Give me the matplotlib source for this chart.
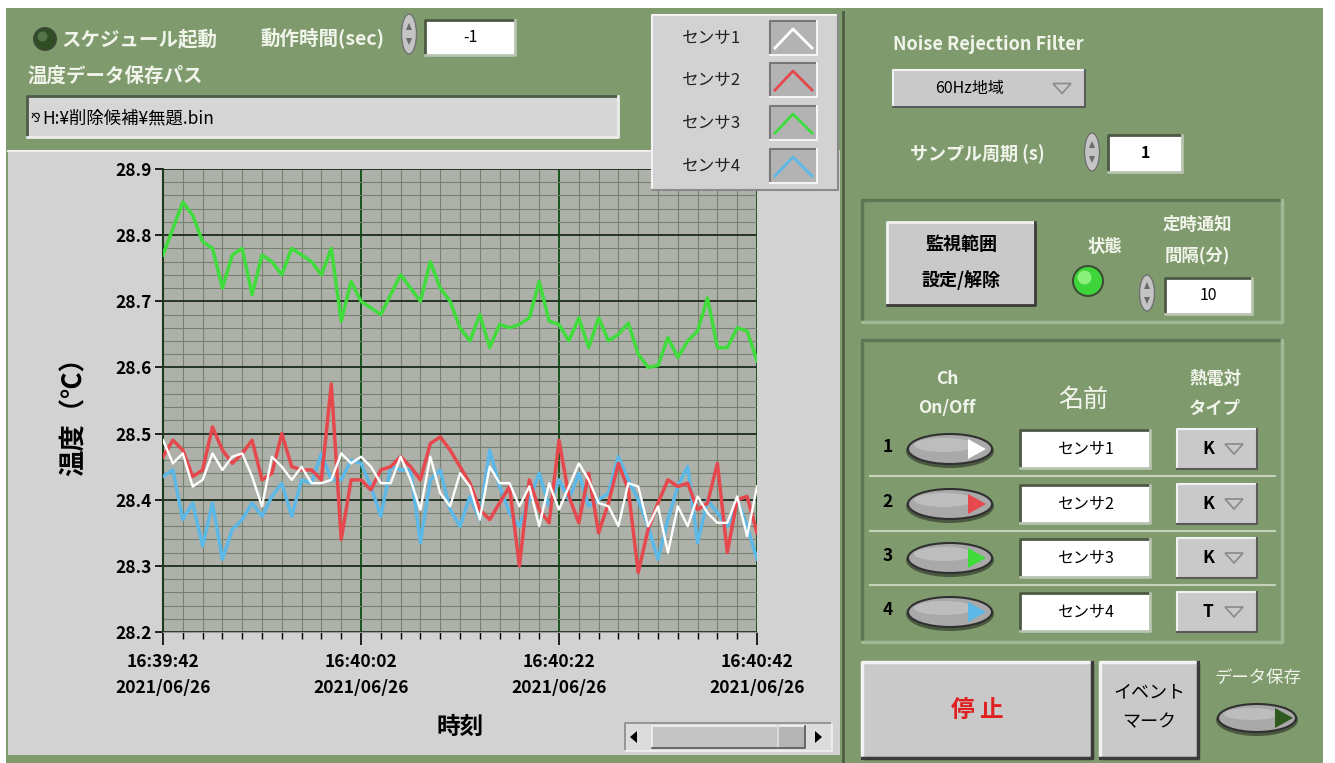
import matplotlib.pyplot as plt
import numpy as np
from matplotlib.patches import Rectangle, Ellipse, Circle, Polygon

plt.rcParams['font.family'] = ['Noto Sans CJK JP', 'DejaVu Sans']

W, H = 1335, 763

# ---- data (1 sample per second) ----
seconds = list(range(61))
x_ticks = [0, 20, 40, 60]
x_tick_labels = ['16:39:42\n2021/06/26', '16:40:02\n2021/06/26',
                 '16:40:22\n2021/06/26', '16:40:42\n2021/06/26']
y_ticks = [28.2, 28.3, 28.4, 28.5, 28.6, 28.7, 28.8, 28.9]
sensor_names = ['センサ1', 'センサ2', 'センサ3', 'センサ4']
sensor_colors = ['#ffffff', '#e5484d', '#3fdc3c', '#5cb8e6']
tc_types = ['K', 'K', 'K', 'T']

sensor1 = [28.49, 28.455, 28.47, 28.42, 28.43, 28.47, 28.445, 28.465, 28.47, 28.435,
           28.39, 28.465, 28.45, 28.43, 28.45, 28.425, 28.425, 28.43, 28.47, 28.455,
           28.465, 28.45, 28.425, 28.425, 28.465, 28.43, 28.385, 28.465, 28.41, 28.39,
           28.44, 28.42, 28.37, 28.45, 28.425, 28.425, 28.39, 28.42, 28.36, 28.425,
           28.385, 28.42, 28.455, 28.43, 28.395, 28.39, 28.36, 28.425, 28.42, 28.36,
           28.39, 28.32, 28.39, 28.36, 28.405, 28.38, 28.365, 28.365, 28.405, 28.345,
           28.42]
sensor2 = [28.465, 28.49, 28.475, 28.435, 28.445, 28.51, 28.475, 28.455, 28.47, 28.49,
           28.43, 28.44, 28.50, 28.45, 28.445, 28.445, 28.43, 28.575, 28.34, 28.43,
           28.43, 28.415, 28.445, 28.45, 28.465, 28.45, 28.43, 28.485, 28.495, 28.475,
           28.45, 28.425, 28.385, 28.37, 28.395, 28.42, 28.30, 28.43, 28.385, 28.365,
           28.49, 28.405, 28.365, 28.44, 28.35, 28.395, 28.455, 28.415, 28.29, 28.355,
           28.395, 28.43, 28.42, 28.425, 28.385, 28.395, 28.455, 28.32, 28.40, 28.405,
           28.35]
sensor3 = [28.77, 28.81, 28.85, 28.83, 28.79, 28.78, 28.72, 28.77, 28.78, 28.71,
           28.77, 28.76, 28.74, 28.78, 28.77, 28.76, 28.74, 28.78, 28.67, 28.73,
           28.70, 28.69, 28.68, 28.71, 28.74, 28.72, 28.70, 28.76, 28.72, 28.70,
           28.66, 28.64, 28.68, 28.63, 28.665, 28.66, 28.665, 28.675, 28.73, 28.67,
           28.665, 28.64, 28.675, 28.63, 28.675, 28.64, 28.65, 28.667, 28.62, 28.60,
           28.603, 28.645, 28.615, 28.64, 28.655, 28.705, 28.63, 28.63, 28.66, 28.655,
           28.61]
sensor4 = [28.435, 28.445, 28.37, 28.395, 28.33, 28.395, 28.31, 28.355, 28.37, 28.395,
           28.375, 28.405, 28.425, 28.375, 28.43, 28.425, 28.47, 28.43, 28.43, 28.46,
           28.455, 28.42, 28.375, 28.45, 28.445, 28.445, 28.335, 28.43, 28.445, 28.385,
           28.36, 28.405, 28.37, 28.475, 28.42, 28.38, 28.36, 28.40, 28.44, 28.39,
           28.43, 28.40, 28.44, 28.39, 28.40, 28.41, 28.465, 28.43, 28.40, 28.36,
           28.31, 28.37, 28.42, 28.45, 28.335, 28.40, 28.38, 28.36, 28.40, 28.36,
           28.31]

PANEL = '#7f9b6e'
FRAME = '#d2d2d2'
LIGHT = '#f1f4ea'
CTRL = '#c9c9c9'


def frac(x0, y0, x1, y1):
    return [x0 / W, 1 - y1 / H, (x1 - x0) / W, (y1 - y0) / H]


def box(ax, x0, y0, x1, y1, fc, raised=True, lw=1.5, light='#f2f2f2', dark='#555555', z=2):
    ax.add_patch(Rectangle((x0, y0), x1 - x0, y1 - y0, facecolor=fc, edgecolor='none', zorder=z))
    a, b = (light, dark) if raised else (dark, light)
    ax.plot([x0, x0, x1], [y1, y0, y0], color=a, lw=lw, zorder=z + 0.1)
    ax.plot([x0, x1, x1], [y1, y1, y0], color=b, lw=lw, zorder=z + 0.1)


def label(ax, x, y, s, size=11, color=LIGHT, weight='bold', ha='left', va='center', **kw):
    ax.text(x, y, s, fontsize=size, color=color, fontweight=weight, ha=ha, va=va, zorder=5, **kw)


def spinner(ax, x, y, h=36):
    ax.add_patch(Ellipse((x, y), 15, h, facecolor='#c4c4c4', edgecolor='#707070', lw=1, zorder=3))
    ax.add_patch(Polygon([(x - 3, y - 4), (x, y - 11), (x + 3, y - 4)], facecolor='#6a6a6a', zorder=4))
    ax.add_patch(Polygon([(x - 3, y + 4), (x, y + 11), (x + 3, y + 4)], facecolor='#6a6a6a', zorder=4))


def numbox(ax, x0, y0, x1, y1, s, weight='normal'):
    box(ax, x0, y0, x1, y1, 'white', raised=False, lw=2, dark='#4c5a44', light='#b8c4b0')
    label(ax, (x0 + x1) / 2, (y0 + y1) / 2, s, size=11.5, color='black', weight=weight, ha='center')


def toggle(ax, cx, cy, color, w=84, h=30):
    ax.add_patch(Ellipse((cx, cy + 2), w + 4, h + 4, facecolor='#4a5840', edgecolor='none', zorder=3))
    ax.add_patch(Ellipse((cx, cy), w, h, facecolor='#a9a9a9', edgecolor='#303030', lw=1.5, zorder=3.1))
    ax.add_patch(Ellipse((cx - 6, cy - 4), w - 24, h - 16, facecolor='#bdbdbd', edgecolor='none', zorder=3.2))
    ax.add_patch(Polygon([(cx + 18, cy - 10), (cx + 36, cy), (cx + 18, cy + 10)],
                         facecolor=color, edgecolor='none', zorder=3.3))


def led(ax, cx, cy, r, base, hi):
    ax.add_patch(Circle((cx, cy), r + 2, facecolor='#3c4a34', edgecolor='none', zorder=3))
    ax.add_patch(Circle((cx, cy), r, facecolor=base, edgecolor='none', zorder=3.1))
    ax.add_patch(Circle((cx - r * 0.25, cy - r * 0.25), r * 0.5, facecolor=hi, edgecolor='none', zorder=3.2))


def dropdown(ax, x0, y0, x1, y1, s, tx, size=11.5, weight='normal'):
    box(ax, x0, y0, x1, y1, CTRL, raised=True, lw=1.5, dark='#5a5a5a')
    label(ax, tx, (y0 + y1) / 2, s, size=size, color='black', weight=weight, ha='center')
    ax.add_patch(Polygon([(x1 - 32, (y0 + y1) / 2 - 5), (x1 - 14, (y0 + y1) / 2 - 5),
                          (x1 - 23, (y0 + y1) / 2 + 5)], closed=True, facecolor='none',
                         edgecolor='#8a8a8a', lw=1.2, zorder=4))


fig = plt.figure(figsize=(W / 100, H / 100), dpi=100)
fig.patch.set_facecolor('white')

bg = fig.add_axes([0, 0, 1, 1], zorder=0)
bg.set_xlim(0, W)
bg.set_ylim(H, 0)
bg.axis('off')
bg.add_patch(Rectangle((6, 8), 1317, 755, facecolor=PANEL, edgecolor='none', zorder=0))

# ---- top-left controls ----
led(bg, 45, 39, 10, '#2f4c22', '#55754a')
label(bg, 62, 39, 'スケジュール起動', size=14)
label(bg, 260, 39, '動作時間(sec)', size=14)
spinner(bg, 409, 34, 40)
numbox(bg, 425, 20, 515, 55, '-1')
label(bg, 27, 76, '温度データ保存パス', size=14)
box(bg, 27, 96, 618, 137, '#d6d6d6', raised=False, lw=2, dark='#4f5a48', light='#ececec')
label(bg, 31, 118, '⅋', size=9, color='black', weight='normal')
label(bg, 42, 118, 'H:¥削除候補¥無題.bin', size=12.5, color='black', weight='normal')

# ---- graph frame ----
bg.add_patch(Rectangle((8, 150), 832, 605, facecolor=FRAME, edgecolor='none', zorder=1))
bg.plot([8, 650], [151, 151], color='#eeeeee', lw=1.5, zorder=1.1)
bg.plot([843, 843], [12, 763], color='#4d5d44', lw=2, zorder=1.1)
bg.text(74, 410, '温度（℃）', rotation=90, fontsize=19, fontweight='bold', ha='center', va='center', zorder=5)
bg.text(460, 727, '時刻', fontsize=17, fontweight='bold', ha='center', va='center', zorder=5)

# scrollbar
box(bg, 625, 723, 832, 751, '#dcdcdc', raised=False, lw=1.2, dark='#8a8a8a')
box(bg, 652, 726, 778, 748, '#c4c4c4', raised=True, lw=1.2)
box(bg, 778, 726, 805, 748, '#b5b5b5', raised=True, lw=1.2)
bg.add_patch(Polygon([(637, 731), (630, 737), (637, 743)], facecolor='black', zorder=4))
bg.add_patch(Polygon([(815, 731), (822, 737), (815, 743)], facecolor='black', zorder=4))

# ---- chart ----
ax = fig.add_axes(frac(163, 169, 757, 632), zorder=1)
ax.set_facecolor('#aeb1aa')
ax.set_xlim(0, 60)
ax.set_ylim(28.2, 28.9)
ax.set_xticks(x_ticks)
ax.set_xticklabels(x_tick_labels, linespacing=1.55)
ax.set_xticks(seconds[::2], minor=True)
ax.set_yticks(y_ticks)
ax.set_yticklabels([f'{v:.1f}' for v in y_ticks])
ax.set_yticks(np.arange(28.2, 28.9, 0.02), minor=True)
ax.grid(which='minor', color='#75826f', lw=0.8)
ax.yaxis.grid(which='major', color='#243526', lw=1.4)
ax.xaxis.grid(which='major', color='#17541a', lw=1.4)
ax.set_axisbelow(True)
for s in ['top', 'right']:
    ax.spines[s].set_visible(False)
ax.spines['left'].set_color('#1d3a1d')
ax.spines['left'].set_linewidth(1.5)
ax.spines['bottom'].set_color('#9a9a9a')
ax.tick_params(axis='y', which='major', length=6, width=1.2, pad=2, labelsize=12.5, colors='black')
ax.tick_params(axis='y', which='minor', length=0)
ax.tick_params(axis='x', which='major', length=9, width=1.2, pad=6, labelsize=12.5)
ax.tick_params(axis='x', which='minor', length=5, width=1)
for t in ax.get_xticklabels() + ax.get_yticklabels():
    t.set_fontweight('bold')

series = [sensor1, sensor2, sensor3, sensor4]
widths = [1.7, 2.5, 2.5, 2.5]
draw_order = [3, 1, 0, 2]
for i in draw_order:
    ax.plot(seconds, series[i], color=sensor_colors[i], lw=widths[i], zorder=3 + (i == 0))

# ---- legend (on top) ----
top = fig.add_axes([0, 0, 1, 1], zorder=2)
top.set_xlim(0, W)
top.set_ylim(H, 0)
top.axis('off')
top.patch.set_alpha(0)
box(top, 652, 15, 838, 190, '#d2d2d2', raised=True, lw=1.5, dark='#8a8a8a')
for i, yc in enumerate([38, 80, 123, 166]):
    label(top, 712, yc, sensor_names[i], size=12, color='#222222', weight='normal', ha='center')
    box(top, 770, yc - 17, 817, yc + 17, '#b3b3b3', raised=False, lw=1.5, dark='#777777', light='#f4f4f4')
    top.plot([775, 793, 812], [yc + 10, yc - 9, yc + 10], color=sensor_colors[i], lw=2, zorder=4)

# ---- right panel ----
label(bg, 893, 45, 'Noise Rejection Filter', size=13)
dropdown(bg, 893, 70, 1085, 107, '60Hz地域', 970)
label(bg, 910, 154, 'サンプル周期 (s)', size=13)
spinner(bg, 1092, 152, 38)
numbox(bg, 1108, 135, 1182, 172, '1', weight='bold')

box(bg, 862, 200, 1282, 322, PANEL, raised=False, lw=2.5, dark='#5e7652', light='#a3b895')
box(bg, 887, 222, 1035, 305, CTRL, raised=True, lw=2, dark='#3a3a3a')
label(bg, 961, 245, '監視範囲', size=13, color='black', ha='center')
label(bg, 961, 280, '設定/解除', size=13, color='black', ha='center')
label(bg, 1088, 247, '状態', size=12.5)
led(bg, 1088, 281, 14, '#3dd53a', '#8af07a')
label(bg, 1197, 225, '定時通知', size=12.5, ha='center')
label(bg, 1197, 256, '間隔(分)', size=12.5, ha='center')
spinner(bg, 1147, 293, 36)
numbox(bg, 1165, 278, 1252, 314, '10')

box(bg, 862, 340, 1282, 642, PANEL, raised=False, lw=2.5, dark='#5e7652', light='#a3b895')
label(bg, 947, 379, 'Ch', size=12.5, ha='center')
label(bg, 947, 408, 'On/Off', size=12.5, ha='center')
label(bg, 1083, 400, '名前', size=18, weight='normal', ha='center')
label(bg, 1215, 379, '熱電対', size=12.5, ha='center')
label(bg, 1215, 409, 'タイプ', size=12.5, ha='center')
row_y = [449, 504, 558, 612]
for i, yc in enumerate(row_y):
    label(bg, 888, yc - 2, str(i + 1), size=12.5, color='black', ha='center')
    toggle(bg, 950, yc, sensor_colors[i])
    numbox(bg, 1020, yc - 19, 1150, yc + 19, sensor_names[i])
    dropdown(bg, 1177, yc - 20, 1257, yc + 20, tc_types[i], 1208, size=12.5, weight='bold')
    if i < 3:
        bg.plot([870, 1275], [yc + 27, yc + 27], color='#c4d2ba', lw=1.5, zorder=2)

box(bg, 862, 662, 1092, 758, CTRL, raised=True, lw=2.5, dark='#3a3a3a')
label(bg, 977, 710, '停 止', size=17, color='#e02020', ha='center')
box(bg, 1100, 662, 1198, 758, CTRL, raised=True, lw=2.5, dark='#3a3a3a')
label(bg, 1149, 692, 'イベント', size=13, color='black', ha='center', weight='normal')
label(bg, 1149, 722, 'マーク', size=13, color='black', ha='center', weight='normal')
label(bg, 1258, 678, 'データ保存', size=12.5, ha='center', weight='normal')
toggle(bg, 1257, 718, '#2e5a20', w=78, h=28)

fig.savefig('out.png', dpi=100, facecolor=fig.get_facecolor())
